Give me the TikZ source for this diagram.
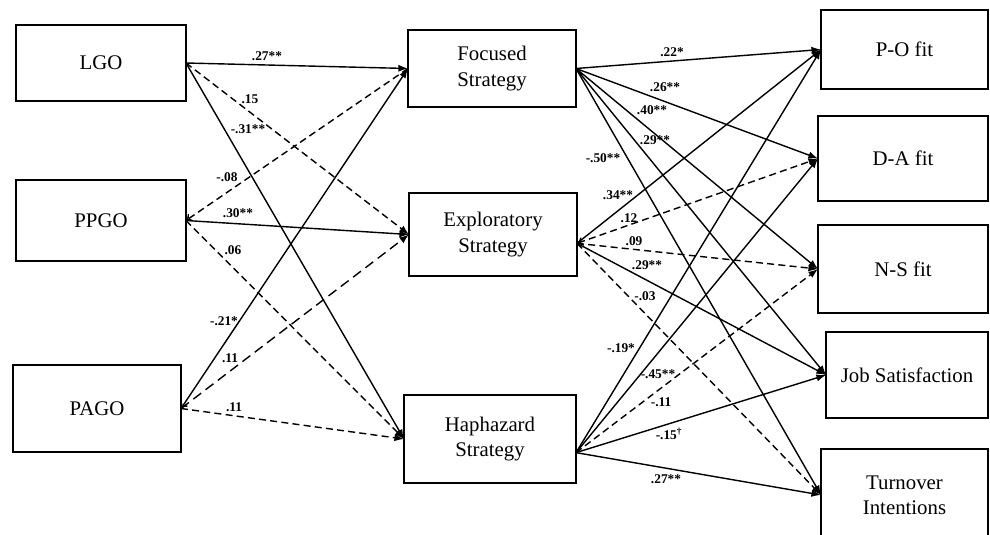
\documentclass[tikz,border=0pt]{standalone}
\usepackage{fontspec}
\setmainfont{Liberation Serif}
\usetikzlibrary{arrows.meta}
\tikzset{
  box/.style={draw, line width=0.8pt, inner sep=0, outer sep=0, align=center,
    font=\fontsize{14.8}{18}\selectfont},
  coef/.style={inner sep=0, font=\fontsize{9.5}{11}\selectfont\bfseries},
  sig/.style={-{Latex[length=2.4mm,width=1.8mm]}, line width=1pt},
  nonsig/.style={sig, dash pattern=on 5pt off 3pt},
  back/.style={{To[length=1.5mm,width=2.2mm]}-{Latex[length=2.4mm,width=1.8mm]}}
}

\begin{document}
\begin{tikzpicture}
\useasboundingbox (0,0) rectangle (24.75,13.35);

% goal orientations
\node [box, minimum width=4.25cm, minimum height=1.9cm] (lgo) at (2.525,11.775) {LGO};
\node [box, minimum width=4.25cm, minimum height=2.025cm] (ppgo) at (2.525,7.8375) {PPGO};
\node [box, minimum width=4.2cm, minimum height=2.175cm] (pago) at (2.425,3.1375) {PAGO};

% strategies
\node [box, minimum width=4.2cm, minimum height=1.925cm] (foc) at (12.3,11.6375) {Focused\\Strategy};
\node [box, minimum width=4.2cm, minimum height=2.075cm] (expl) at (12.325,7.4875) {Exploratory\\Strategy};
\node [box, minimum width=4.3cm, minimum height=2.2cm] (haph) at (12.25,2.375) {Haphazard\\Strategy};

% outcomes
\node [box, minimum width=4.175cm, minimum height=1.975cm] (po) at (22.6125,12.1125) {P-O fit};
\node [box, minimum width=4.25cm, minimum height=2.125cm] (da) at (22.575,9.3875) {D-A fit};
\node [box, minimum width=4.25cm, minimum height=2.2cm] (ns) at (22.575,6.625) {N-S fit};
\node [box, minimum width=4.05cm, minimum height=2.15cm] (js) at (22.675,3.975) {Job Satisfaction};
\node [box, minimum width=4.175cm, minimum height=2.3cm] (to) at (22.6125,0.975) {Turnover\\Intentions};

% goal orientation -> strategy
\draw[sig] (lgo.east) -- (foc.west);
\draw[nonsig] (lgo.east) -- (expl.west);
\draw[sig] (lgo.east) -- (haph.west);
\draw[nonsig, -{To[length=1.5mm,width=2.2mm]}] (foc.west) -- (ppgo.east);
\draw[sig] (ppgo.east) -- (expl.west);
\draw[nonsig] (ppgo.east) -- (haph.west);
\draw[sig, back] (pago.east) -- (foc.west);
\draw[nonsig, dash pattern=on 7pt off 4pt] (pago.east) -- (expl.west);
\draw[nonsig] (pago.east) -- (haph.west);

% strategy -> outcome
\draw[sig] (foc.east) -- (po.west);
\draw[sig] (foc.east) -- (da.west);
\draw[sig] (foc.east) -- (ns.west);
\draw[sig] (foc.east) -- (js.west);
\draw[sig] (foc.east) -- (to.west);

\draw[sig] (expl.-6) -- (po.west);
\draw[nonsig, back] (expl.-6) -- (da.west);
\draw[nonsig] (expl.-6) -- (ns.west);
\draw[sig] (expl.-6) -- (js.west);
\draw[nonsig] (expl.-6) -- (to.west);

\draw[sig] (haph.-9) -- (po.west);
\draw[sig] (haph.-9) -- (da.west);
\draw[nonsig] (haph.-9) -- (ns.west);
\draw[sig] (haph.-9) -- (js.west);
\draw[sig] (haph.-9) -- (to.west);

% coefficients
\node [coef] (c1) at (6.675,11.95) {.27**};
\node [coef] (c2) at (6.25,10.875) {.15};
\node [coef] (c3) at (6.2,10.125) {-.31**};
\node [coef] (c4) at (5.675,8.925) {-.08};
\node [coef] (c5) at (5.95,8.025) {.30**};
\node [coef] (c6) at (5.825,7.1) {.06};
\node [coef] (c7) at (5.6,5.325) {-.21*};
\node [coef] (c8) at (5.75,4.4) {.11};
\node [coef] (c9) at (5.85,3.175) {.11};

\node [coef] (c10) at (16.8,12.05) {.22*};
\node [coef] (c11) at (16.625,11.175) {.26**};
\node [coef] (c12) at (16.3,10.6) {.40**};
\node [coef] (c13) at (16.375,9.85) {.29**};
\node [coef] (c14) at (15.075,9.4) {-.50**};
\node [coef] (c15) at (15.45,8.475) {.34**};
\node [coef] (c16) at (15.725,7.9) {.12};
\node [coef] (c17) at (15.85,7.325) {.09};
\node [coef] (c18) at (16.175,6.725) {.29**};
\node [coef] (c19) at (16.125,5.95) {-.03};
\node [coef] (c20) at (15.525,4.65) {-.19*};
\node [coef] (c21) at (16.45,4.0) {-.45**};
\node [coef] (c22) at (16.525,3.3) {-.11};
\node [coef] (c23) at (16.725,2.5) {-.15\textsuperscript{\dag}};
\node [coef] (c24) at (16.65,1.375) {.27**};

\end{tikzpicture}
\end{document}
